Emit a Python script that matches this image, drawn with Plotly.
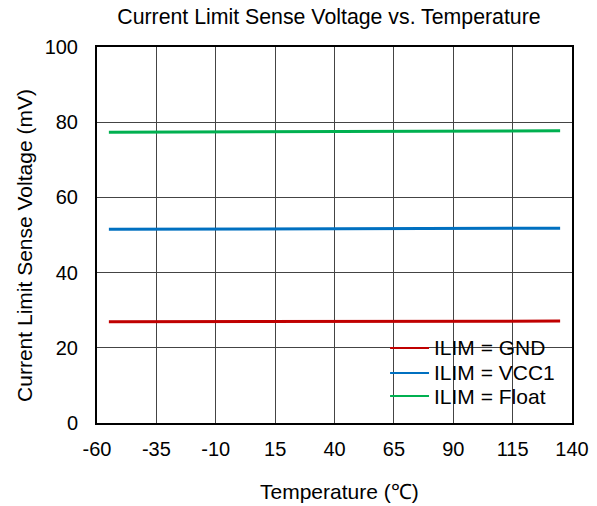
import plotly.graph_objects as go

temperature = [-55, 135]
ilim_gnd = [26.9, 27.1]
ilim_vcc1 = [51.5, 51.8]
ilim_float = [77.3, 77.7]

x_ticks = [-60, -35, -10, 15, 40, 65, 90, 115, 140]
y_ticks = [0, 20, 40, 60, 80, 100]

series_names = ["ILIM = GND", "ILIM = VCC1", "ILIM = Float"]
series_values = [ilim_gnd, ilim_vcc1, ilim_float]
series_colors = ["#C00000", "#0070C0", "#00B050"]

FONT = "Liberation Sans, Arial, sans-serif"
LABEL_SIZE = 21
TICK_SIZE = 20

fig = go.Figure()
for name, vals, color in zip(series_names, series_values, series_colors):
    fig.add_trace(go.Scatter(x=temperature, y=vals, mode="lines", name=name,
                             line=dict(color=color, width=3), showlegend=False,
                             hoverinfo="skip"))

# legend drawn in paper coordinates (white box covering the grid)
fig.add_shape(type="rect", xref="paper", yref="paper", x0=0.579, x1=0.981, y0=0, y1=0.25,
              fillcolor="white", line=dict(width=0), layer="between")
legend_rows = [0.1995, 0.133, 0.0718]
for name, color, yy in zip(series_names, series_colors, legend_rows):
    fig.add_shape(type="line", xref="paper", yref="paper", x0=0.617, x1=0.699, y0=yy, y1=yy,
                  line=dict(color=color, width=2), layer="above")
    fig.add_annotation(xref="paper", yref="paper", x=0.705, y=yy, xanchor="left", yanchor="middle",
                       text=name, showarrow=False,
                       font=dict(size=LABEL_SIZE, family=FONT, color="black"))

# axis titles
fig.add_annotation(xref="paper", yref="paper", x=0.5105, y=0, xanchor="center", yanchor="middle",
                   yshift=-68, text="Temperature (℃)", showarrow=False,
                   font=dict(size=LABEL_SIZE, family=FONT, color="black"))
fig.add_annotation(xref="paper", yref="paper", x=0, y=0.471, xanchor="center", yanchor="middle",
                   xshift=-72, textangle=-90, text="Current Limit Sense Voltage (mV)", showarrow=False,
                   font=dict(size=LABEL_SIZE, family=FONT, color="black"))

fig.update_layout(
    width=597, height=506,
    margin=dict(l=97, r=25, t=47, b=83),
    paper_bgcolor="white", plot_bgcolor="white",
    font=dict(family=FONT, color="black"),
    title=dict(text="Current Limit Sense Voltage vs. Temperature",
               x=0.551, xanchor="center", y=0.9664, yanchor="middle",
               font=dict(size=21.3, family=FONT, color="black")),
    showlegend=False,
    hovermode=False,
)

fig.update_xaxes(
    range=[-60, 140], tickvals=x_ticks, ticktext=[str(v) for v in x_ticks],
    showgrid=True, gridcolor="#444444", gridwidth=1,
    showline=True, linecolor="black", linewidth=2, mirror=True,
    ticks="inside", ticklen=5, tickcolor="#444444",
    tickfont=dict(size=TICK_SIZE, family=FONT, color="black"),
    ticklabelstandoff=7,
    zeroline=False, automargin=False,
)
fig.update_yaxes(
    range=[0, 100], tickvals=y_ticks,
    showgrid=True, gridcolor="#444444", gridwidth=1,
    showline=True, linecolor="black", linewidth=2, mirror=True,
    ticks="inside", ticklen=5, tickcolor="#444444",
    tickfont=dict(size=TICK_SIZE, family=FONT, color="black"),
    ticklabelstandoff=13,
    zeroline=False, automargin=False,
)

fig.write_html("out.html", config={"displayModeBar": False, "staticPlot": True})

# remove the default page margin so the figure fills the window exactly
with open("out.html", encoding="utf-8") as f:
    html = f.read()
html = html.replace("<body>", '<body style="margin:0;overflow:hidden">', 1)
with open("out.html", "w", encoding="utf-8") as f:
    f.write(html)
